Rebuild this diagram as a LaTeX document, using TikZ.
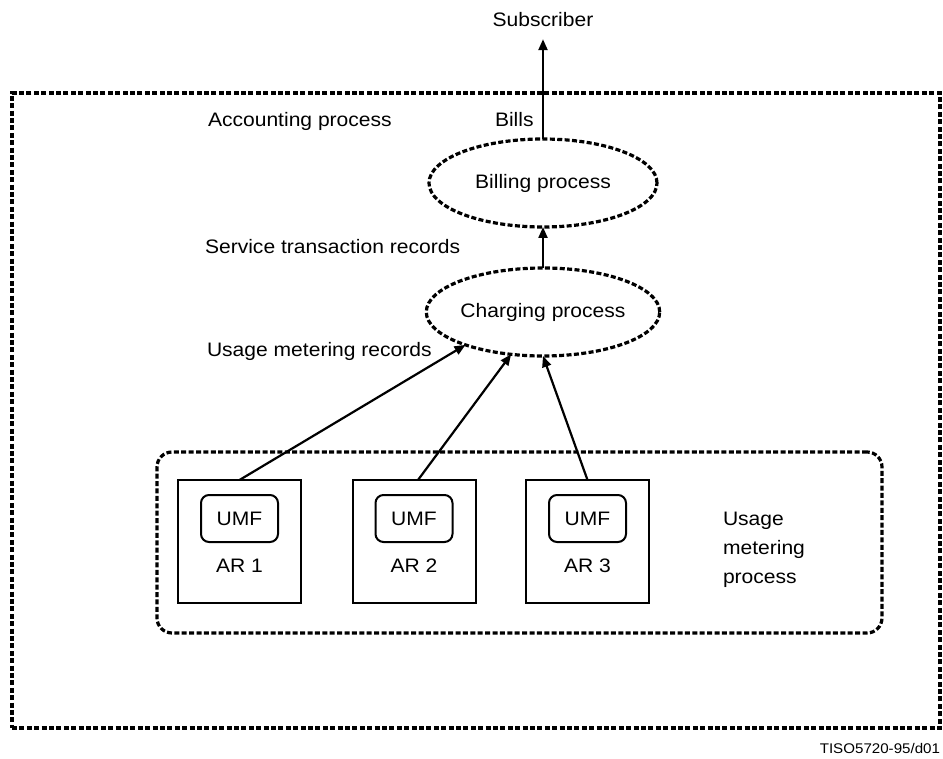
\documentclass[tikz,border=0pt]{standalone}
\usepackage{fontspec}
\setmainfont{Liberation Sans}[FakeStretch=1.08]
\usetikzlibrary{shapes.geometric,arrows.meta}

\begin{document}
\begin{tikzpicture}[x=1pt,y=-1pt,
  every node/.style={inner sep=0pt, outer sep=0pt},
  lbl/.style={font=\fontsize{19.5}{29}\selectfont},
  dashln/.style={line width=3.2pt, dash pattern=on 5pt off 2.4pt},
  procbox/.style={draw, dashln, ellipse, minimum width=228pt, minimum height=88pt, lbl},
  arbox/.style={draw, line width=2pt, minimum width=123pt, minimum height=123pt},
  umfbox/.style={draw, line width=2pt, rounded corners=8pt, minimum width=77pt, minimum height=47pt, lbl},
  flow/.style={line width=2.2pt, -{Triangle[length=11pt,width=9pt]}},
]
\useasboundingbox (0,0) rectangle (943,759);

% process boundaries
\node[draw, dashln, minimum width=928pt, minimum height=635pt] (acct) at (476,410.5) {};
\node[draw, dashln, rounded corners=15pt, minimum width=725pt, minimum height=181pt] (meter) at (519.5,542.5) {};

% billing and charging processes
\node[procbox] (bill) at (543,183) {Billing process};
\node[procbox] (charge) at (543,312) {Charging process};

% accounting records with their usage metering functions
\foreach \i/\x in {1/239.5, 2/414, 3/587.5} {
  \node[arbox] (ar\i) at (\x,541.5) {};
  \node[umfbox] (umf\i) at (\x,518.5) {UMF};
  \node[lbl, anchor=base] (arl\i) at (\x,572) {AR \i};
}

% labels
\node[lbl, anchor=base] (subs) at (543,27) {Subscriber};
\node[lbl, anchor=base west] (acctl) at (208,127) {Accounting process};
\node[lbl, anchor=base west] (bills) at (495,127) {Bills};
\node[lbl, anchor=base west] (strl) at (205,254) {Service transaction records};
\node[lbl, anchor=base west] (umrl) at (207,357) {Usage metering records};
\node[lbl, anchor=north west, align=left] (umpl) at (723,512) {Usage\\metering\\process};
\node[font=\fontsize{14}{16}\selectfont, anchor=base east] (tag) at (940,753) {TISO5720-95/d01};

% flows
\draw[flow] (bill.north) -- ([yshift=-12pt]subs.south);
\draw[flow] (charge.north) -- (bill.south);
\draw[flow] (ar1.north) -- (charge.203.7);
\draw[flow] ([xshift=4pt]ar2.north) -- (charge.233.8);
\draw[flow] (ar3.north) -- (charge.south);
\end{tikzpicture}
\end{document}
